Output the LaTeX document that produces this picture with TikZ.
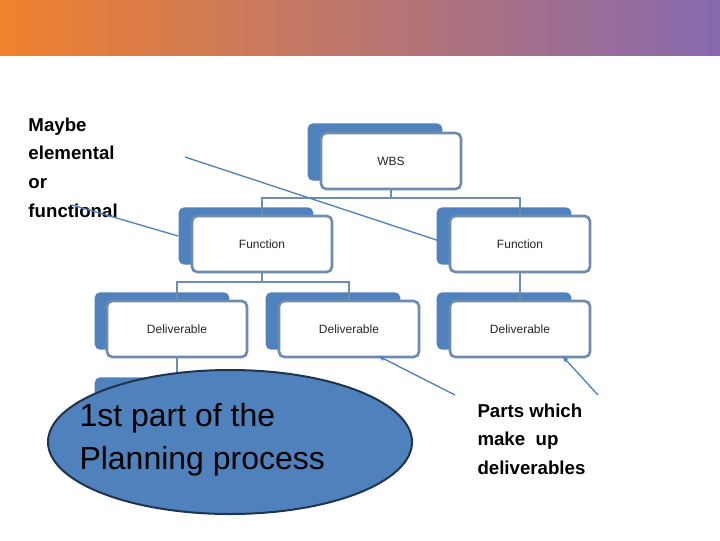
\documentclass[tikz,border=0pt]{standalone}
\usepackage{fontspec}
\setmainfont{Liberation Sans}
\usetikzlibrary{positioning,arrows.meta,shapes.geometric}
\definecolor{boxblue}{RGB}{79,129,189}
\definecolor{boxedge}{RGB}{110,140,175}
\definecolor{boxfill}{RGB}{240,244,250}
\definecolor{bandl}{RGB}{240,130,45}
\definecolor{bandr}{RGB}{135,105,175}
\tikzset{every picture/.style={line width=0.75pt}}
\tikzset{
  back/.style={draw=none,fill=boxblue,rounded corners=4pt,minimum width=101pt,minimum height=43pt,inner sep=0pt},
  front/.style={draw=boxedge,line width=2pt,fill=white,rounded corners=4pt,minimum width=105pt,minimum height=42pt,inner sep=0pt,
    font=\small,text=black!85},
  link/.style={draw=boxedge,line width=2.2pt},
  note/.style={draw=boxblue,line width=1pt},
  lbl/.style={anchor=north west,inner sep=0pt,align=left,font=\fontsize{14}{21.5}\selectfont\bfseries}
}
\begin{document}
\begin{tikzpicture}[x=0.75pt,y=0.75pt,yscale=-1,xscale=1]
\useasboundingbox (0,0) rectangle (720,540);
% top band
\shade[left color=bandl,right color=bandr] (0,0) rectangle (720,55);

% back boxes
\node[back] (wbsB) at (375,152) {};
\node[back] (fun1B) at (246,236) {};
\node[back] (fun2B) at (504,236) {};
\node[back] (del1B) at (162,321) {};
\node[back] (del2B) at (333,321) {};
\node[back] (del3B) at (504,321) {};
\node[back] (del4B) at (162,406) {};

% front boxes
\node[front] (wbs) at (391,161) {WBS};
\node[front] (fun1) at (262,244) {Function};
\node[front] (fun2) at (520,244) {Function};
\node[front] (del1) at (177,329) {Deliverable};
\node[front] (del2) at (349,329) {Deliverable};
\node[front] (del3) at (520,329) {Deliverable};

% tree links
\coordinate (j1) at (391,198);
\coordinate (j2) at (262,282);
\draw[link] (wbs.south) -- (j1) -| (fun1.north);
\draw[link] (j1) -| (fun2.north);
\draw[link] (fun1.south) -- (j2) -| (del1.north);
\draw[link] (j2) -| (del2.north);
\draw[link] (fun2.south) -- (del3.north);
\draw[link] (del1.south) -- (del4B.north-|del1.south);

% ellipse
\node[draw=black!60!boxblue,line width=1.5pt,fill=boxblue,ellipse,minimum width=273pt,minimum height=108pt,inner sep=0pt] (plan) at (230,442) {};
\node[anchor=north west,inner sep=0pt,align=left,font=\fontsize{24}{32}\selectfont] (planT) at (79,403) {1st part of the\\Planning process};

% notes
\node[lbl] (maybe) at (28,117) {Maybe\\elemental\\or\\functional};
\node[lbl] (parts) at (477,403) {Parts which\\make~ up\\deliverables};
\coordinate (a1) at (185,157);
\coordinate (a2) at (72,205);
\coordinate (a3) at (455,395);
\coordinate (a4) at (598,395);
\draw[note,-{Latex[length=5pt]}] (a1) -- (fun2.west);
\draw[note] (a2) -- (fun1B.west);
\draw[note,-{Latex[length=5pt]}] (a3) -- ([xshift=-32pt,yshift=-2pt]del2.south east);
\draw[note,-{Latex[length=5pt]}] (a4) -- ([xshift=-22pt,yshift=-2pt]del3.south east);
\end{tikzpicture}
\end{document}
